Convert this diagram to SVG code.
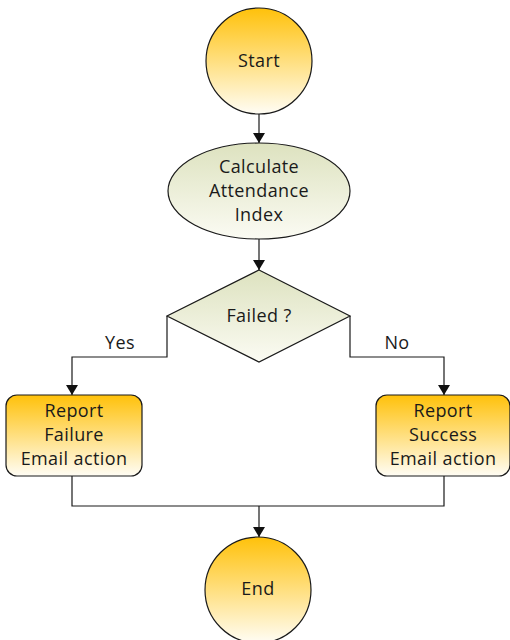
<svg xmlns="http://www.w3.org/2000/svg" width="510" height="640" viewBox="0 0 510 640">
<style>
.node{stroke:#1a1a1a;stroke-width:1.2}
.gold{fill:url(#gGold)}
.olive{fill:url(#gOlive)}
text{font-family:"Open Sans","Liberation Sans",sans-serif;font-size:18px;letter-spacing:0.4px;fill:#1a1a1a;text-anchor:middle;dominant-baseline:central}
.conn{fill:none;stroke:#1a1a1a;stroke-width:1.2}
</style>
<defs>
<linearGradient id="gGold" x1="0" y1="0" x2="0" y2="1">
<stop offset="0" stop-color="#ffc10a"/>
<stop offset="1" stop-color="#fffdf5"/>
</linearGradient>
<linearGradient id="gOlive" x1="0" y1="0" x2="0" y2="1">
<stop offset="0" stop-color="#dde2bf"/>
<stop offset="1" stop-color="#fbfbf3"/>
</linearGradient>
<marker id="arr" viewBox="0 0 10 12" refX="10" refY="6" markerWidth="10" markerHeight="12" markerUnits="userSpaceOnUse" orient="auto">
<path d="M0,0 L10,6 L0,12 Z" fill="#111"/>
</marker>
</defs>
<g id="connectors">
<path class="conn" d="M259,114 V143" marker-end="url(#arr)"/>
<path class="conn" d="M259,239 V270" marker-end="url(#arr)"/>
<path class="conn" d="M167,316 V357 H72 V395" marker-end="url(#arr)"/>
<path class="conn" d="M350,316 V357 H444 V395" marker-end="url(#arr)"/>
<path class="conn" d="M72,476 V506 H444 V476"/>
<path class="conn" d="M259,506 V537" marker-end="url(#arr)"/>
<text x="120" y="342">Yes</text>
<text x="397" y="342">No</text>
</g>
<g id="start">
<circle class="node gold" cx="259" cy="61" r="53"/>
<text x="259" y="60">Start</text>
</g>
<g id="calc">
<ellipse class="node olive" cx="259" cy="191" rx="91" ry="48"/>
<text x="259" y="166">Calculate</text>
<text x="259" y="190">Attendance</text>
<text x="259" y="214">Index</text>
</g>
<g id="decision">
<polygon class="node olive" points="259,270 350,316 259,362 167,316"/>
<text x="259" y="315">Failed ?</text>
</g>
<g id="failure">
<rect class="node gold" x="6" y="395" width="136" height="81" rx="11"/>
<text x="74" y="410">Report</text>
<text x="74" y="434">Failure</text>
<text x="74" y="458">Email action</text>
</g>
<g id="success">
<rect class="node gold" x="376" y="395" width="134" height="81" rx="11"/>
<text x="443" y="410">Report</text>
<text x="443" y="434">Success</text>
<text x="443" y="458">Email action</text>
</g>
<g id="end">
<circle class="node gold" cx="258" cy="590" r="53"/>
<text x="258" y="588">End</text>
</g>
</svg>
